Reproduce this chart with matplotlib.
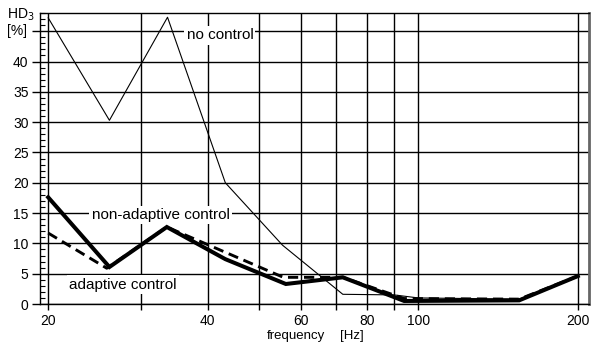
import matplotlib
matplotlib.use("Agg")
import matplotlib.pyplot as plt
from matplotlib.ticker import FixedLocator, NullLocator

plt.rcParams['font.family'] = ['Liberation Sans', 'DejaVu Sans']

# Data
no_ctrl_f = [20, 26.1, 33.6, 43.2, 55.4, 72, 90, 100, 155, 200]
no_ctrl_v = [47.2, 30.3, 47.3, 20.0, 9.7, 1.6, 1.5, 1.0, 0.8, 4.6]

nonadapt_f = [20, 26.1, 33.5, 43.2, 56.2, 72, 94, 155, 200]
nonadapt_v = [17.6, 6.1, 12.7, 7.4, 3.3, 4.4, 0.5, 0.6, 4.6]

adapt_f = [20, 25.8, 33.5, 55.6, 72, 94, 155, 200]
adapt_v = [11.7, 5.9, 12.7, 4.4, 4.4, 0.9, 0.8, 4.6]

x_grid = [20, 30, 40, 50, 60, 70, 80, 90, 100, 200]
x_labels = {20: "20", 40: "40", 60: "60", 80: "80", 100: "100", 200: "200"}
y_ticks = [0, 5, 10, 15, 20, 25, 30, 35, 40, 45]
y_labels = ["0", "5", "10", "15", "20", "25", "30", "35", "40", ""]

fig = plt.figure(figsize=(5.92, 3.47), dpi=100)
ax = fig.add_axes([40/592, 1-304/347, (589-40)/592, (304-13)/347])
ax.set_xscale('log')
ax.set_xlim(19.3, 210)
ax.set_ylim(0, 48)

ax.xaxis.set_major_locator(FixedLocator(x_grid))
ax.xaxis.set_minor_locator(NullLocator())
ax.set_xticklabels([x_labels.get(v, "") for v in x_grid])
ax.set_yticks(y_ticks)
ax.set_yticklabels(y_labels)
ax.yaxis.set_minor_locator(FixedLocator([v for v in range(0, 49) if v % 5 != 0]))

ax.grid(True, which='major', color='black', linewidth=1.0)
ax.set_axisbelow(True)
ax.tick_params(axis='y', which='major', direction='out', length=5.8, width=1.0,
               labelsize=10, pad=2.5)
ax.tick_params(axis='y', which='minor', direction='in', length=3.6, width=0.8)
ax.tick_params(axis='x', which='major', direction='out', length=4.5, width=1.0,
               labelsize=10, pad=2.5)

for s in ['left', 'top', 'bottom']:
    ax.spines[s].set_linewidth(1.0)
ax.spines['right'].set_color('#666666')
ax.spines['right'].set_linewidth(2.0)

ax.plot(no_ctrl_f, no_ctrl_v, color='black', linewidth=0.8, zorder=3)
ax.plot(nonadapt_f, nonadapt_v, color='black', linewidth=2.9, zorder=4,
        solid_joinstyle='miter')
ax.plot(adapt_f, adapt_v, color='black', linewidth=2.1, zorder=4,
        dashes=(3.5, 2.0))

bbox = dict(facecolor='white', edgecolor='none', pad=1.5)
ax.text(42.2, 44.3, "no control", fontsize=11, ha='center', va='center',
        bbox=bbox, zorder=5)
ax.text(32.6, 14.7, "non-adaptive control", fontsize=11, ha='center', va='center',
        bbox=bbox, zorder=5)
ax.text(27.7, 3.2, "adaptive control", fontsize=11, ha='center', va='center',
        bbox=bbox, zorder=5)

fig.text(7/592, 1-15/347, "HD$_3$", fontsize=10, ha='left', va='center')
fig.text(7/592, 1-31/347, "[%]", fontsize=10, ha='left', va='center')
fig.text(267/592, 1-336/347, "frequency", fontsize=9.5, ha='left', va='center')
fig.text(340/592, 1-336/347, "[Hz]", fontsize=9.5, ha='left', va='center')

fig.savefig("out.png", dpi=100)
